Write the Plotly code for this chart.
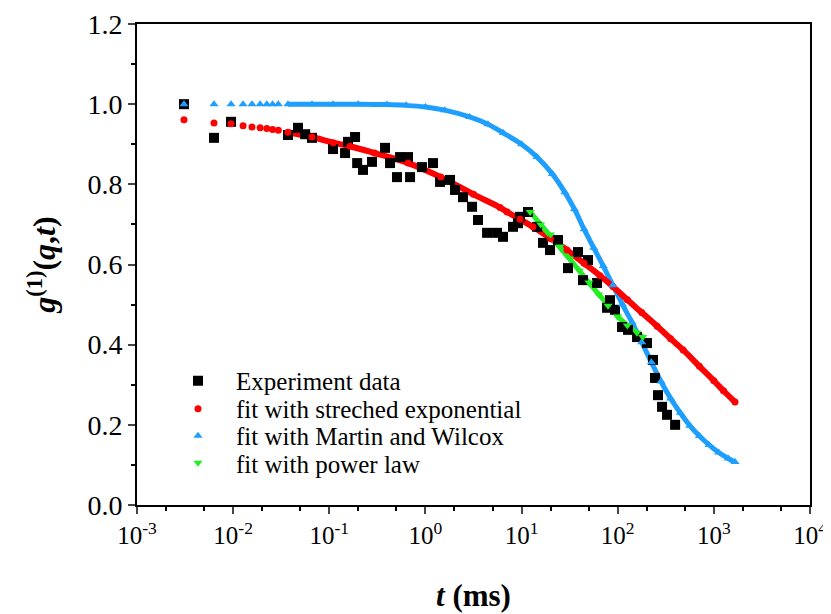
import plotly.graph_objects as go

# ---- data (t in ms) ----
exp_t = [0.00308, 0.00632, 0.00951, 0.0372, 0.0473, 0.0562, 0.0661, 0.1094, 0.1459, 0.1567,
         0.1854, 0.195, 0.2244, 0.278, 0.380, 0.4285, 0.5058, 0.5445, 0.659, 0.692,
         0.920, 1.199, 1.419, 1.803, 2.032, 2.460, 3.055, 3.524, 4.375, 5.559,
         6.412, 8.147, 9.183, 9.638, 11.67, 14.49, 16.71, 19.77, 23.93, 30.41,
         38.64, 43.55, 49.09, 60.95, 77.45, 83.18, 93.76, 110.9, 127.9, 158.9,
         201.8, 232.8, 244.3, 262.4, 289.1, 325.8, 395.4]
exp_g = [1.000, 0.916, 0.956, 0.923, 0.941, 0.925, 0.916, 0.888, 0.878, 0.906,
         0.918, 0.853, 0.836, 0.856, 0.891, 0.853, 0.818, 0.868, 0.868, 0.818,
         0.843, 0.853, 0.806, 0.811, 0.786, 0.768, 0.744, 0.711, 0.679, 0.679,
         0.669, 0.694, 0.703, 0.719, 0.731, 0.694, 0.654, 0.636, 0.661, 0.591,
         0.631, 0.561, 0.611, 0.554, 0.492, 0.511, 0.487, 0.444, 0.437, 0.419,
         0.404, 0.362, 0.317, 0.274, 0.245, 0.225, 0.200]

se_t = [0.00308, 0.00632, 0.00951, 0.01268, 0.0157, 0.0191, 0.0224, 0.0257, 0.0295, 0.0372,
        0.0661, 0.1096, 0.164, 0.295, 0.661, 1.445, 3.16, 5.97, 7.06, 9.64,
        13.15, 19.95, 29.7, 44.7, 65.5, 89.1, 125.9, 177.8, 257.0, 355.0,
        479.0, 708.0, 1000.0, 1259.0, 1660.0]
se_g = [0.961, 0.953, 0.951, 0.946, 0.943, 0.941, 0.939, 0.937, 0.935, 0.930,
        0.918, 0.904, 0.895, 0.878, 0.853, 0.818, 0.775, 0.742, 0.731, 0.713,
        0.694, 0.665, 0.636, 0.603, 0.572, 0.545, 0.512, 0.480, 0.446, 0.415,
        0.387, 0.346, 0.310, 0.285, 0.257]

mw_t = [0.00308, 0.00632, 0.00951, 0.01268, 0.0157, 0.0191, 0.0224, 0.0257, 0.0295, 0.0372,
        0.0661, 0.1096, 0.2, 0.398, 0.631, 1.0, 1.585, 2.88, 4.47, 6.46,
        10.0, 14.5, 20.9, 28.2, 35.5, 44.7, 56.2, 70.8, 89.1, 112.2,
        141.3, 177.8, 223.9, 281.8, 354.8, 446.7, 562.3, 707.9, 891.3, 1122.0,
        1412.5, 1660.0]
mw_g = [1.0, 1.0, 1.0, 1.0, 1.0, 1.0, 1.0, 1.0, 1.0, 1.0,
        1.0, 1.0, 1.0, 0.999, 0.997, 0.993, 0.985, 0.968, 0.95, 0.928,
        0.900, 0.868, 0.826, 0.780, 0.738, 0.688, 0.642, 0.596, 0.548, 0.500,
        0.455, 0.406, 0.356, 0.308, 0.266, 0.230, 0.198, 0.172, 0.150, 0.131,
        0.116, 0.107]

pl_t = [12.3, 15.8, 20.0, 25.1, 31.6, 39.8, 50.1, 63.1, 79.4, 100.0, 125.9, 158.5, 182.0]
pl_g = [0.731, 0.70, 0.675, 0.645, 0.615, 0.585, 0.555, 0.525, 0.497, 0.47, 0.448, 0.43, 0.419]

x_tick_vals = [1e-3, 1e-2, 1e-1, 1e0, 1e1, 1e2, 1e3, 1e4]
x_tick_text = ["10<sup>-3</sup>", "10<sup>-2</sup>", "10<sup>-1</sup>", "10<sup>0</sup>",
               "10<sup>1</sup>", "10<sup>2</sup>", "10<sup>3</sup>", "10<sup>4</sup>"]
y_tick_vals = [0.0, 0.2, 0.4, 0.6, 0.8, 1.0, 1.2]
y_tick_text = ["0.0", "0.2", "0.4", "0.6", "0.8", "1.0", "1.2"]

RED = "#ff0000"
BLUE = "#1e9fff"
GREEN = "#22ee22"

LINE_FROM = 0.03  # dense region: markers merge into a band

fig = go.Figure()


def dense(ts, gs):
    pairs = [(t, g) for t, g in zip(ts, gs) if t >= LINE_FROM]
    return [p[0] for p in pairs], [p[1] for p in pairs]


dt, dg = dense(mw_t, mw_g)
fig.add_trace(go.Scatter(x=dt, y=dg, mode="lines", line=dict(color=BLUE, width=5, shape="spline"),
                         showlegend=False, hoverinfo="skip"))
dt, dg = dense(se_t, se_g)
fig.add_trace(go.Scatter(x=dt, y=dg, mode="lines", line=dict(color=RED, width=6, shape="spline"),
                         showlegend=False, hoverinfo="skip"))
fig.add_trace(go.Scatter(x=pl_t, y=pl_g, mode="lines", line=dict(color=GREEN, width=5),
                         showlegend=False, hoverinfo="skip"))

leg_font = dict(family="Liberation Serif", size=25, color="black")
fig.add_trace(go.Scatter(x=exp_t, y=exp_g, mode="markers", name="Experiment data",
                         marker=dict(symbol="square", color="black", size=10),
                         legend="legend"))
fig.add_trace(go.Scatter(x=se_t, y=se_g, mode="markers", name="fit with streched exponential",
                         marker=dict(symbol="circle", color=RED, size=7),
                         legend="legend2"))
fig.add_trace(go.Scatter(x=mw_t, y=mw_g, mode="markers", name="fit with Martin and Wilcox",
                         marker=dict(symbol="triangle-up", color=BLUE, size=8),
                         legend="legend3"))
fig.add_trace(go.Scatter(x=pl_t, y=pl_g, mode="markers", name="fit with power law",
                         marker=dict(symbol="triangle-down", color=GREEN, size=8),
                         legend="legend4"))

LEG_X = 0.0342
leg_common = dict(x=LEG_X, xanchor="left", yanchor="middle", font=leg_font,
                  bgcolor="rgba(0,0,0,0)", itemwidth=66)

tick_font_x = dict(family="Liberation Serif", size=25, color="black")
tick_font_y = dict(family="Liberation Serif", size=28, color="black")

# page body adds an 8px margin, so the figure is 8px smaller in each direction
fig.update_layout(
    width=823, height=606,
    margin=dict(l=129, r=21, t=16, b=109, autoexpand=False),
    paper_bgcolor="white", plot_bgcolor="white",
    font=dict(family="Liberation Serif", color="black"),
    showlegend=True,
    legend=dict(y=0.2578, **leg_common),
    legend2=dict(y=0.1996, **leg_common),
    legend3=dict(y=0.1435, **leg_common),
    legend4=dict(y=0.0873, **leg_common),
    xaxis=dict(type="log", range=[-3, 4], tickvals=x_tick_vals, ticktext=x_tick_text,
               tickfont=tick_font_x, ticks="outside", ticklen=7, tickwidth=2,
               showline=True, linewidth=2, linecolor="black", mirror=True,
               showgrid=False, zeroline=False, automargin=False,
               minor=dict(ticks="outside", ticklen=4, tickwidth=1.5, tickcolor="black",
                          showgrid=False),
               title=dict(text="<b><i>t</i> (ms)</b>",
                          font=dict(family="Liberation Serif", size=31, color="black"),
                          standoff=36)),
    yaxis=dict(range=[0, 1.2], tickvals=y_tick_vals, ticktext=y_tick_text,
               tickfont=tick_font_y, ticks="outside", ticklen=7, tickwidth=2,
               showline=True, linewidth=2, linecolor="black", mirror=True,
               showgrid=False, zeroline=False, automargin=False,
               minor=dict(ticks="outside", ticklen=4, tickwidth=1.5, tickcolor="black",
                          dtick=0.1, showgrid=False),
               title=dict(text="<b><i>g</i><sup>(1)</sup>(<i>q</i>,<i>t</i>)</b>",
                          font=dict(family="Liberation Serif", size=32, color="black"),
                          standoff=22)),
)

fig.write_html("out.html")
